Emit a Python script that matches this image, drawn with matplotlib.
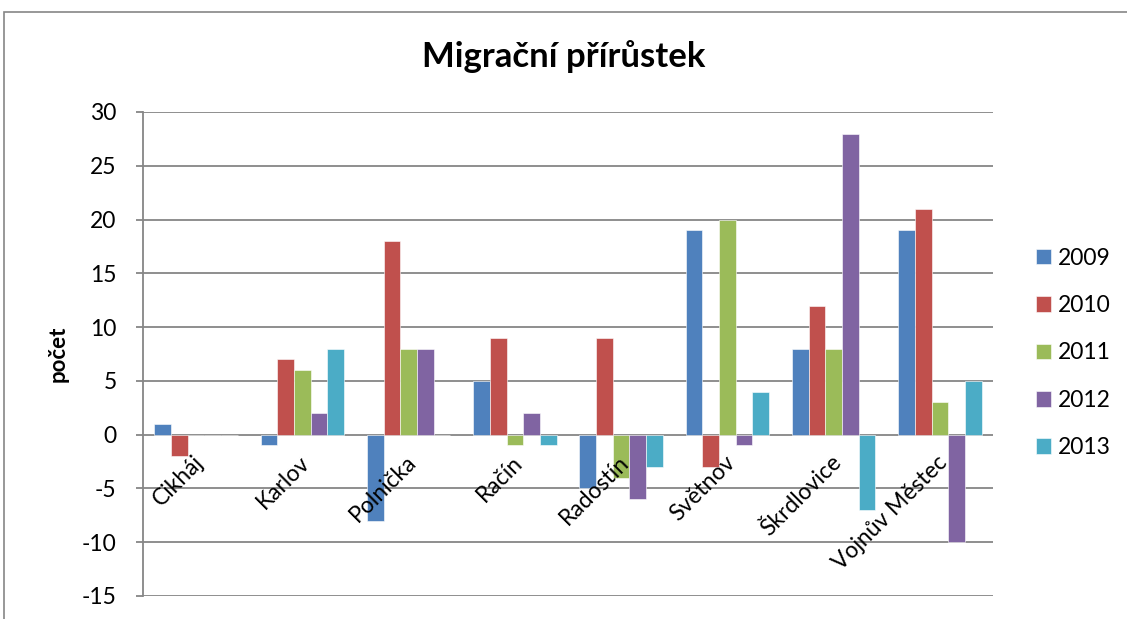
import numpy as np
import matplotlib
matplotlib.use('Agg')
import matplotlib.pyplot as plt
import matplotlib.transforms as mtransforms
from matplotlib.patches import Rectangle

plt.rcParams['font.family'] = ['Lato', 'DejaVu Sans']
plt.rcParams['axes.unicode_minus'] = False

# data
obce = ['Cikháj', 'Karlov', 'Polnička', 'Račín', 'Radostín', 'Světnov', 'Škrdlovice', 'Vojnův Městec']
roky = ['2009', '2010', '2011', '2012', '2013']
v2009 = [1, -1, -8, 5, -5, 19, 8, 19]
v2010 = [-2, 7, 18, 9, 9, -3, 12, 21]
v2011 = [0, 6, 8, -1, -4, 20, 8, 3]
v2012 = [0, 2, 8, 2, -6, -1, 28, -10]
v2013 = [0, 8, 0, -1, -3, 4, -7, 5]
barvy = ['#4F81BD', '#C0504D', '#9BBB59', '#8064A2', '#4BACC6']

serie = [v2009, v2010, v2011, v2012, v2013]
fs = 16.5

fig = plt.figure(figsize=(11.27, 6.19), dpi=100)
ax = fig.add_axes([143/1127, 1-596/619, 850/1127, 484/619])

x = np.arange(len(obce))
w = 0.157
for k, (vals, c, r) in enumerate(zip(serie, barvy, roky)):
    ax.bar(x + (k-2)*w, vals, w, color=c, label=r, edgecolor='white', linewidth=0.4, zorder=3)

ax.set_xlim(-0.5, len(obce)-0.5)
ax.set_ylim(-15, 30)
ax.set_yticks(np.arange(-15, 31, 5))
ax.yaxis.grid(True, color='#868686', linewidth=1.3)
ax.set_axisbelow(True)
for s in ['top', 'right', 'bottom']:
    ax.spines[s].set_visible(False)
ax.spines['left'].set_color('#868686')
ax.spines['left'].set_linewidth(1.3)
ax.tick_params(axis='y', labelsize=fs, length=5, color='#868686', width=1.3, pad=14)
ax.set_xticks([])

# category labels next to the zero line, drawn over the bars
off = mtransforms.offset_copy(ax.transData, fig=fig, x=-3, y=-17, units='dots')
for i, name in enumerate(obce):
    ax.text(i, 0, name, transform=off, rotation=45, ha='right', va='top',
            rotation_mode='anchor', fontsize=fs, zorder=6)

fig.text(58/1127, 1-354/619, 'počet', rotation=90, ha='center', va='center',
         fontsize=16, fontweight='bold')
fig.text(0.5, 1-67/619, 'Migrační přírůstek', ha='center', va='baseline', fontsize=25, fontweight='bold')

ax.legend(loc='center left', bbox_to_anchor=(1036/1127, 1-353/619), bbox_transform=fig.transFigure,
          frameon=False, fontsize=fs, borderpad=0, borderaxespad=0,
          handlelength=0.66, handleheight=0.66, labelspacing=1.15, handletextpad=0.3)

fig.patches.append(Rectangle((4/1127, -0.1), 1.2, 1.1 - 12/619, transform=fig.transFigure,
                             fill=False, edgecolor='#868686', linewidth=1.2))

fig.savefig('out.png', dpi=100)
